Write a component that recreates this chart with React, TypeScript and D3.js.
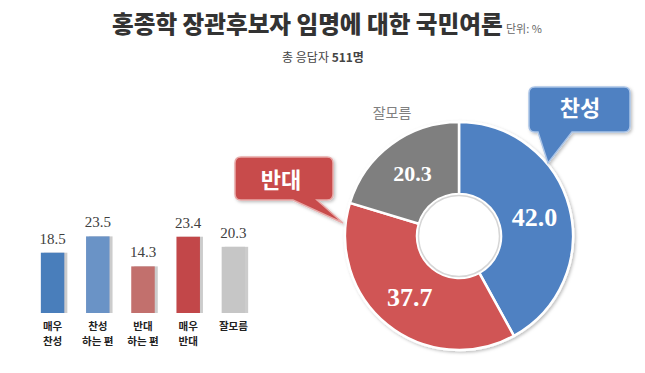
import React from "react";
import * as d3 from "d3";

const WIDTH = 645;
const HEIGHT = 373;

// bar chart (detail breakdown)
const BAR_CATEGORIES = ["매우\n찬성", "찬성\n하는 편", "반대\n하는 편", "매우\n반대", "잘모름"];
const BAR_VALUES = [18.5, 23.5, 14.3, 23.4, 20.3];
const BAR_COLORS = ["#4a7ebb", "#6b93c6", "#c26f6d", "#c2474a", "#c6c6c6"];

// donut (summary)
const DONUT_LABELS = ["찬성", "반대", "잘모름"];
const DONUT_VALUES = [42.0, 37.7, 20.3];
const DONUT_COLORS = ["#4f81c2", "#d05454", "#7f7f7f"];

const CX = 459;
const CY = 236;
const R_OUT = 114;
const R_IN = 42;

function calloutPath(x, y, w, h, r, b1, b2, tipX, tipY) {
  return [
    `M${x + r},${y}`,
    `H${x + w - r}`,
    `Q${x + w},${y} ${x + w},${y + r}`,
    `V${y + h - r}`,
    `Q${x + w},${y + h} ${x + w - r},${y + h}`,
    `H${b2}`,
    `L${tipX},${tipY}`,
    `L${b1},${y + h}`,
    `H${x + r}`,
    `Q${x},${y + h} ${x},${y + h - r}`,
    `V${y + r}`,
    `Q${x},${y} ${x + r},${y}`,
    "Z",
  ].join(" ");
}

export default function App() {
  const x = d3
    .scaleBand()
    .domain(BAR_CATEGORIES)
    .range([30, 256])
    .paddingInner(0.48)
    .paddingOuter(0.24);
  const y = d3.scaleLinear().domain([0, 25]).range([313, 313 - 25 * 3.26]);

  const pie = d3
    .pie()
    .sort(null)
    .value((d) => d);
  const arcs = pie(DONUT_VALUES);
  const arc = d3.arc().innerRadius(R_IN).outerRadius(R_OUT);
  const labelArc = d3.arc().innerRadius(78).outerRadius(78);

  const kfont = "'Noto Sans CJK KR', 'Noto Sans', sans-serif";
  const nfont = "'Liberation Serif', 'DejaVu Serif', serif";

  return (
    <svg
      width={WIDTH}
      height={HEIGHT}
      style={{ position: "absolute", left: 0, top: 0, background: "#ffffff" }}
    >
      <defs>
        <filter id="softShadow" x="-20%" y="-20%" width="140%" height="140%">
          <feDropShadow dx="1.5" dy="1.5" stdDeviation="1.5" floodColor="#000" floodOpacity="0.25" />
        </filter>
        <filter id="barShadow" x="-20%" y="-10%" width="150%" height="120%">
          <feDropShadow dx="3" dy="0" stdDeviation="0.6" floodColor="#999" floodOpacity="0.5" />
        </filter>
      </defs>

      {/* title, unit note right after it */}
      <text
        x={112}
        y={33}
        style={{ fontFamily: kfont, fontSize: 23.6, fontWeight: 900, fill: "#333" }}
      >
        홍종학 장관후보자 임명에 대한 국민여론
      </text>
      <text x={506} y={33} style={{ fontFamily: kfont, fontSize: 11, fill: "#666" }}>
        단위: %
      </text>
      <text
        x={323}
        y={62}
        textAnchor="middle"
        style={{ fontFamily: kfont, fontSize: 12, fill: "#444" }}
      >
        총 응답자 <tspan fontWeight="bold">511명</tspan>
      </text>

      {/* bars */}
      {BAR_CATEGORIES.map((c, i) => {
        const bx = x(c);
        const cx = bx + x.bandwidth() / 2;
        const v = BAR_VALUES[i];
        const lines = c.split("\n");
        return (
          <g key={c}>
            <rect
              x={bx}
              y={y(v)}
              width={x.bandwidth()}
              height={y(0) - y(v)}
              fill={BAR_COLORS[i]}
              filter="url(#barShadow)"
            />
            <text
              x={cx}
              y={y(v) - 9}
              textAnchor="middle"
              style={{ fontFamily: nfont, fontSize: 15, fill: "#404040" }}
            >
              {v.toFixed(1)}
            </text>
            <text
              textAnchor="middle"
              style={{ fontFamily: kfont, fontSize: 10.5, fontWeight: "bold", fill: "#222" }}
            >
              {lines.map((ln, j) => (
                <tspan key={j} x={cx} y={329.5 + j * 15.5}>
                  {ln}
                </tspan>
              ))}
            </text>
          </g>
        );
      })}

      {/* donut */}
      <g transform={`translate(${CX},${CY})`}>
        <g filter="url(#softShadow)">
          {arcs.map((a, i) => (
            <path key={i} d={arc(a)} fill={DONUT_COLORS[i]} stroke="#fff" strokeWidth={2.5} />
          ))}
        </g>
        <circle r={R_IN - 1.5} fill="#fff" stroke="#d6d6d6" strokeWidth={1.5} />
        {arcs.map((a, i) => {
          const [lx, ly] = labelArc.centroid(a);
          return (
            <text
              key={i}
              x={lx}
              y={ly}
              dy="0.35em"
              textAnchor="middle"
              style={{
                fontFamily: nfont,
                fontSize: i === 2 ? 22 : 26,
                fontWeight: "bold",
                fill: "#fff",
              }}
            >
              {DONUT_VALUES[i].toFixed(1)}
            </text>
          );
        })}
      </g>
      <text
        x={392}
        y={118}
        textAnchor="middle"
        style={{ fontFamily: kfont, fontSize: 14, fill: "#808080" }}
      >
        {DONUT_LABELS[2]}
      </text>

      {/* callouts */}
      <path
        d={calloutPath(529, 87, 101, 45, 6, 538, 572, 548, 163)}
        fill="#4f81c2"
        stroke="#a9c3e6"
        strokeWidth={1.5}
        filter="url(#softShadow)"
      />
      <text
        x={580}
        y={116}
        textAnchor="middle"
        style={{ fontFamily: kfont, fontSize: 22, fontWeight: "bold", fill: "#fff" }}
      >
        {DONUT_LABELS[0]}
      </text>
      <path
        d={calloutPath(235, 157, 98, 43, 6, 293, 317, 343, 223)}
        fill="#c84b4b"
        stroke="#e7a9a8"
        strokeWidth={1.5}
        filter="url(#softShadow)"
      />
      <text
        x={281}
        y={188}
        textAnchor="middle"
        style={{ fontFamily: kfont, fontSize: 22, fontWeight: "bold", fill: "#fff" }}
      >
        {DONUT_LABELS[1]}
      </text>
    </svg>
  );
}
